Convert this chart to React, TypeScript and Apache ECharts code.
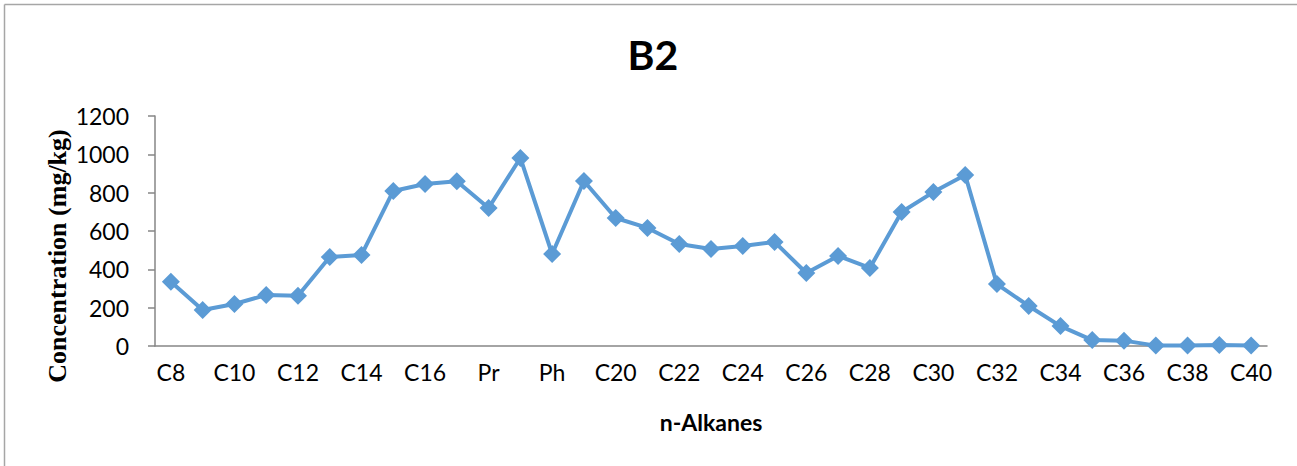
import React, { useEffect, useRef } from "react";
import * as echarts from "echarts";

const categories = [
  "C8", "C9", "C10", "C11", "C12", "C13", "C14", "C15", "C16", "C17",
  "Pr", "C18", "Ph", "C19", "C20", "C21", "C22", "C23", "C24", "C25",
  "C26", "C27", "C28", "C29", "C30", "C31", "C32", "C33", "C34", "C35",
  "C36", "C37", "C38", "C39", "C40",
];

const concentration = [
  335, 188, 219, 266, 262, 464, 475, 809, 845, 860,
  720, 981, 480, 861, 668, 616, 532, 506, 522, 543,
  381, 470, 407, 699, 803, 892, 323, 209, 104, 31,
  28, 2, 2, 5, 3,
];

const yTicks = { min: 0, max: 1200, interval: 200 };

const titleText = "B2";
const xName = "n-Alkanes";
const yName = "Concentration (mg/kg)";

export default function App() {
  const ref = useRef<HTMLDivElement>(null);
  useEffect(() => {
    if (!ref.current) return;
    const chart = echarts.init(ref.current, undefined, { renderer: "svg" });
    chart.setOption({
      animation: false,
      backgroundColor: "#ffffff",
      title: {
        text: titleText,
        left: 648,
        top: 29,
        textAlign: "center",
        textStyle: { fontFamily: "Lato", fontWeight: "bold", fontSize: 41, color: "#000" },
      },
      grid: { left: 155, right: 30, top: 116, bottom: 120, containLabel: false },
      graphic: [
        { type: "line", shape: { x1: 4.5, y1: 4.5, x2: 1297, y2: 4.5 }, style: { stroke: "#a6a6a6", lineWidth: 1.5 } },
        { type: "line", shape: { x1: 4.5, y1: 4.5, x2: 4.5, y2: 466 }, style: { stroke: "#a6a6a6", lineWidth: 1.5 } },
        {
          type: "text",
          x: 57,
          y: 256,
          rotation: Math.PI / 2,
          style: {
            text: yName,
            align: "center",
            verticalAlign: "middle",
            fontFamily: "Liberation Serif",
            fontWeight: "bold",
            fontSize: 26,
            fill: "#000",
          },
        },
      ],
      xAxis: {
        type: "category",
        data: categories,
        boundaryGap: true,
        name: xName,
        nameLocation: "middle",
        nameGap: 64,
        nameTextStyle: { fontFamily: "Lato", fontWeight: "bold", fontSize: 23, color: "#000" },
        axisLine: { lineStyle: { color: "#868686", width: 1.5 } },
        axisTick: { show: false },
        axisLabel: { interval: 1, margin: 14, fontFamily: "Lato", fontSize: 23, color: "#000" },
        splitLine: { show: false },
      },
      yAxis: {
        type: "value",
        min: yTicks.min,
        max: yTicks.max,
        interval: yTicks.interval,
        axisLine: { show: true, lineStyle: { color: "#868686", width: 1.5 } },
        axisTick: { show: true, length: 7, lineStyle: { color: "#868686", width: 1.5 } },
        axisLabel: {
          margin: 26,
          fontFamily: "Lato",
          fontSize: 23,
          color: "#000",
          formatter: (v: number) => String(v),
        },
        splitLine: { show: false },
      },
      series: [
        {
          type: "line",
          data: concentration,
          symbol: "diamond",
          symbolSize: 18,
          lineStyle: { color: "#5b9bd5", width: 4 },
          itemStyle: { color: "#5b9bd5" },
        },
      ],
    });
    return () => chart.dispose();
  }, []);
  return (
    <div
      ref={ref}
      style={{ position: "fixed", left: 0, top: 0, width: 1297, height: 466 }}
    />
  );
}
